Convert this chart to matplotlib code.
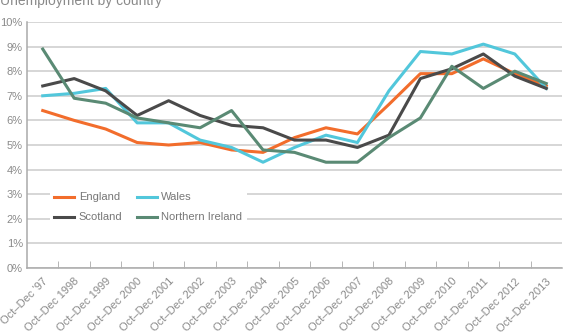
import matplotlib.pyplot as plt
import numpy as np

plt.rcParams['font.family'] = ['Liberation Sans', 'DejaVu Sans']

# Data (percent)
periods = ["Oct\u2013Dec '97", 'Oct\u2013Dec 1998', 'Oct\u2013Dec 1999', 'Oct\u2013Dec 2000',
           'Oct\u2013Dec 2001', 'Oct\u2013Dec 2002', 'Oct\u2013Dec 2003', 'Oct\u2013Dec 2004',
           'Oct\u2013Dec 2005', 'Oct\u2013Dec 2006', 'Oct\u2013Dec 2007', 'Oct\u2013Dec 2008',
           'Oct\u2013Dec 2009', 'Oct\u2013Dec 2010', 'Oct\u2013Dec 2011', 'Oct\u2013Dec 2012',
           'Oct\u2013Dec 2013']
england = [6.4, 6.0, 5.65, 5.1, 5.0, 5.1, 4.8, 4.7, 5.3, 5.7, 5.45, 6.65, 7.9, 7.9, 8.5, 7.9, 7.4]
wales = [7.0, 7.1, 7.3, 5.9, 5.9, 5.2, 4.9, 4.3, 4.9, 5.4, 5.1, 7.2, 8.8, 8.7, 9.1, 8.7, 7.3]
scotland = [7.4, 7.7, 7.2, 6.2, 6.8, 6.2, 5.8, 5.7, 5.2, 5.2, 4.9, 5.4, 7.7, 8.1, 8.7, 7.8, 7.3]
n_ireland = [8.9, 6.9, 6.7, 6.1, 5.9, 5.7, 6.4, 4.8, 4.7, 4.3, 4.3, 5.3, 6.1, 8.2, 7.3, 8.0, 7.5]

grey = '#8a8a8a'
x = np.arange(len(periods))

fig = plt.figure(figsize=(5.64, 3.35), dpi=100)
ax = fig.add_axes([27 / 564, 67 / 335, 535 / 564, 246 / 335])

lw = 2.2
l_eng, = ax.plot(x, england, color='#f26d2c', lw=lw, label='England', zorder=3)
l_wal, = ax.plot(x, wales, color='#52c7db', lw=lw, label='Wales', zorder=3)
l_sco, = ax.plot(x, scotland, color='#4a4a4a', lw=lw, label='Scotland', zorder=3)
l_ni, = ax.plot(x, n_ireland, color='#5a8a74', lw=lw, label='Northern Ireland', zorder=3)

ax.set_xlim(-0.5, len(periods) - 0.5)
ax.set_ylim(0, 10)
ax.set_yticks(range(0, 11))
ax.set_yticklabels(['%d%%' % v for v in range(0, 11)])
ax.yaxis.grid(True, color='#cccccc', lw=1.1)
ax.set_axisbelow(True)

ax.set_xticks(x)
ax.set_xticklabels(periods, rotation=45, ha='right', rotation_mode='anchor')
ax.set_xticks(np.arange(0.5, len(periods) - 0.5), minor=True)
ax.tick_params(axis='x', which='major', length=0, pad=6, labelsize=8, labelcolor=grey)
ax.tick_params(axis='x', which='minor', length=5, direction='in', color='#aaaaaa')
ax.tick_params(axis='y', length=0, pad=3, labelsize=8, labelcolor=grey)

for s in ['top', 'right']:
    ax.spines[s].set_visible(False)
for s in ['left', 'bottom']:
    ax.spines[s].set_color('#aaaaaa')
    ax.spines[s].set_linewidth(1.1)

# column-wise fill: England/Scotland in first column, Wales/NI in second
leg = ax.legend([l_eng, l_sco, l_wal, l_ni],
                ['England', 'Scotland', 'Wales', 'Northern Ireland'],
                ncol=2, loc='center left', bbox_to_anchor=(50 / 564, (335 - 207.5) / 335),
                bbox_transform=fig.transFigure, frameon=True, fontsize=8,
                handlelength=1.8, handletextpad=0.4, columnspacing=1.3,
                labelspacing=0.9, borderpad=0.4, borderaxespad=0)
leg.get_frame().set_facecolor('white')
leg.get_frame().set_edgecolor('none')
leg.get_frame().set_alpha(1)
for t in leg.get_texts():
    t.set_color('#777777')

fig.text(0, 1 - 5 / 335, 'Unemployment by country', fontsize=10, color=grey,
         ha='left', va='baseline')

fig.savefig('out.png', dpi=100)
